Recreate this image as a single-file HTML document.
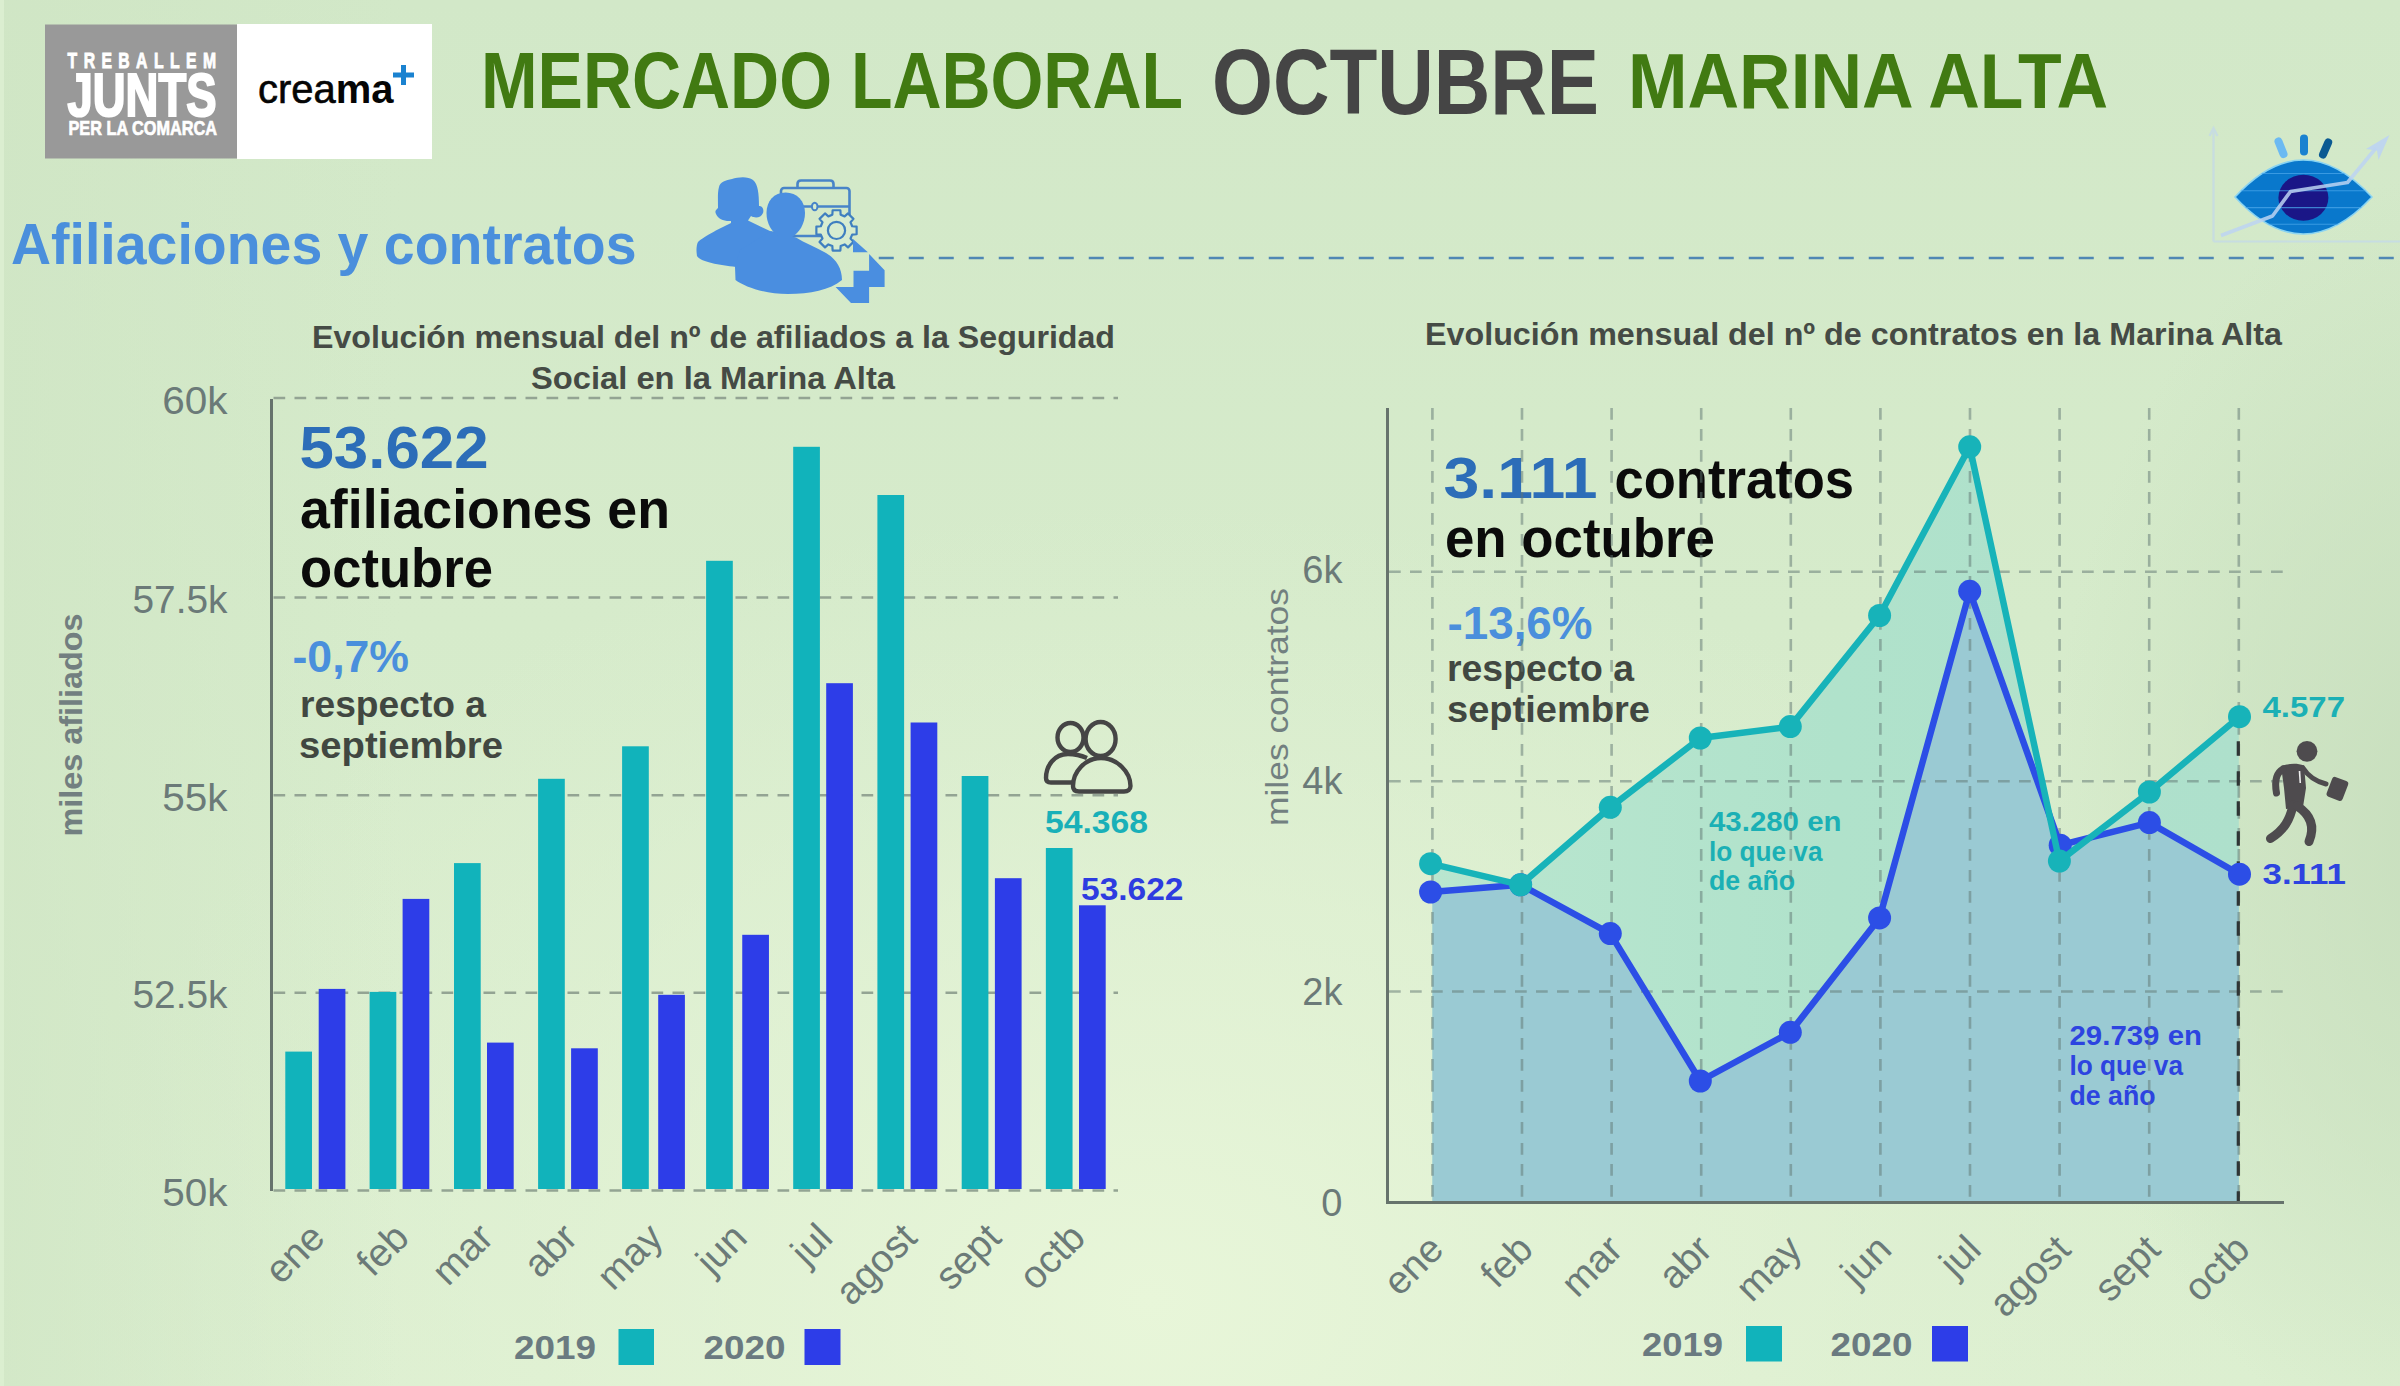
<!DOCTYPE html>
<html lang="es">
<head>
<meta charset="utf-8">
<title>Mercado laboral octubre Marina Alta</title>
<style>
html,body{margin:0;padding:0;width:2400px;height:1386px;overflow:hidden;background:#d6eacb;}
svg{display:block;font-family:"Liberation Sans",Arial,sans-serif;}
</style>
</head>
<body>
<svg id="main" width="2400" height="1386" viewBox="0 0 2400 1386">
<defs>
  <linearGradient id="bgv" x1="0" y1="0" x2="0" y2="1">
    <stop offset="0" stop-color="#d2e8c8"/>
    <stop offset="0.45" stop-color="#d6ebcb"/>
    <stop offset="1" stop-color="#dcefd0"/>
  </linearGradient>
  <radialGradient id="bgr" gradientUnits="userSpaceOnUse" cx="1150" cy="1300" r="1000" gradientTransform="translate(1150 1300) scale(1.1 0.8) translate(-1150 -1300)">
    <stop offset="0" stop-color="#e8f6d9" stop-opacity="1"/>
    <stop offset="0.5" stop-color="#e4f3d6" stop-opacity="0.6"/>
    <stop offset="1" stop-color="#e0f0d3" stop-opacity="0"/>
  </radialGradient>
  <radialGradient id="bgR" gradientUnits="userSpaceOnUse" cx="2470" cy="820" r="420" gradientTransform="translate(2470 820) scale(1 1.55) translate(-2470 -820)">
    <stop offset="0" stop-color="#c6ddbc" stop-opacity="0.95"/>
    <stop offset="0.55" stop-color="#c8dfbe" stop-opacity="0.55"/>
    <stop offset="1" stop-color="#c8dfbe" stop-opacity="0"/>
  </radialGradient>
  <linearGradient id="bgL" gradientUnits="userSpaceOnUse" x1="0" y1="0" x2="400" y2="0">
    <stop offset="0" stop-color="#cfe5c4" stop-opacity="0.7"/>
    <stop offset="1" stop-color="#cfe5c4" stop-opacity="0"/>
  </linearGradient>
</defs>
<!-- background -->
<rect x="0" y="0" width="2400" height="1386" fill="url(#bgv)"/>
<rect x="0" y="0" width="2400" height="1386" fill="url(#bgr)"/>
<rect x="0" y="0" width="2400" height="1386" fill="url(#bgR)"/>
<rect x="0" y="0" width="2400" height="1386" fill="url(#bgL)"/>
<rect x="0" y="0" width="4" height="1386" fill="#ddf0d2" opacity="0.8"/>

<!-- ============ HEADER ============ -->
<g id="logo">
  <rect x="45" y="24.5" width="192" height="134" fill="#999999"/>
  <rect x="237" y="24" width="195" height="135" fill="#ffffff"/>
  <text transform="translate(67.6,67.7) scale(0.7,1)" font-size="22.5" font-weight="bold" fill="#fff" stroke="#fff" stroke-width="0.9" textLength="212" lengthAdjust="spacing">TREBALLEM</text>
  <text x="67.5" y="115.8" font-size="61" font-weight="bold" fill="#fff" stroke="#fff" stroke-width="2.2" textLength="149" lengthAdjust="spacingAndGlyphs">JUNTS</text>
  <text x="68.5" y="135.4" font-size="20.5" font-weight="bold" fill="#fff" stroke="#fff" stroke-width="0.7" textLength="148.5" lengthAdjust="spacingAndGlyphs">PER LA COMARCA</text>
  <text x="258" y="102.5" font-size="40" fill="#050505" textLength="135.5" lengthAdjust="spacingAndGlyphs"><tspan stroke="#050505" stroke-width="0.6">crea</tspan><tspan font-weight="bold">ma</tspan></text>
  <path d="M403.5 65 v20 M393 75 h21" stroke="#1a82d0" stroke-width="5"/>
</g>

<text x="481" y="108.2" font-size="79" font-weight="bold" fill="#417a12" textLength="702" lengthAdjust="spacingAndGlyphs">MERCADO LABORAL</text>
<text x="1212" y="114.4" font-size="93" font-weight="bold" fill="#454545" textLength="387" lengthAdjust="spacingAndGlyphs">OCTUBRE</text>
<text x="1628" y="108.3" font-size="78.5" font-weight="bold" fill="#417a12" textLength="480" lengthAdjust="spacingAndGlyphs">MARINA ALTA</text>

<text x="11" y="264" font-size="57" font-weight="bold" fill="#4a8fdc" textLength="625.5" lengthAdjust="spacingAndGlyphs">Afiliaciones y contratos</text>

<!-- dashed separator -->
<line x1="878.75" y1="258" x2="2400" y2="258" stroke="#4f87b4" stroke-width="2.5" stroke-dasharray="15 15"/>

<g id="leftchart">
<text x="713.5" y="348" font-size="32" font-weight="bold" fill="#454b45" text-anchor="middle" textLength="803" lengthAdjust="spacingAndGlyphs">Evolución mensual del nº de afiliados a la Seguridad</text>
<text x="713" y="388.5" font-size="32" font-weight="bold" fill="#454b45" text-anchor="middle" textLength="364" lengthAdjust="spacingAndGlyphs">Social en la Marina Alta</text>
<line x1="273.5" y1="398" x2="1118" y2="398" stroke="#93a493" stroke-width="2.5" stroke-dasharray="11.7 9.3"/>
<text x="227.5" y="413.5" font-size="38" fill="#6b7a78" text-anchor="end" textLength="65.3" lengthAdjust="spacingAndGlyphs">60k</text>
<line x1="273.5" y1="597.5" x2="1118" y2="597.5" stroke="#93a493" stroke-width="2.5" stroke-dasharray="11.7 9.3"/>
<text x="227.5" y="613.0" font-size="38" fill="#6b7a78" text-anchor="end" textLength="95" lengthAdjust="spacingAndGlyphs">57.5k</text>
<line x1="273.5" y1="795.2" x2="1118" y2="795.2" stroke="#93a493" stroke-width="2.5" stroke-dasharray="11.7 9.3"/>
<text x="227.5" y="810.7" font-size="38" fill="#6b7a78" text-anchor="end" textLength="65.3" lengthAdjust="spacingAndGlyphs">55k</text>
<line x1="273.5" y1="992.8" x2="1118" y2="992.8" stroke="#93a493" stroke-width="2.5" stroke-dasharray="11.7 9.3"/>
<text x="227.5" y="1008.3" font-size="38" fill="#6b7a78" text-anchor="end" textLength="95" lengthAdjust="spacingAndGlyphs">52.5k</text>
<line x1="273.5" y1="1190.6" x2="1118" y2="1190.6" stroke="#93a493" stroke-width="2.5" stroke-dasharray="11.7 9.3"/>
<text x="227.5" y="1206.1" font-size="38" fill="#6b7a78" text-anchor="end" textLength="65.3" lengthAdjust="spacingAndGlyphs">50k</text>
<line x1="271.5" y1="399" x2="271.5" y2="1191" stroke="#66736c" stroke-width="3"/>
<rect x="285.3" y="1051.6" width="26.7" height="137.4" fill="#11b3bb"/>
<rect x="369.6" y="991.9" width="26.7" height="197.1" fill="#11b3bb"/>
<rect x="454" y="863.1" width="26.7" height="325.9" fill="#11b3bb"/>
<rect x="538.1" y="778.8" width="26.7" height="410.2" fill="#11b3bb"/>
<rect x="622.1" y="746.3" width="26.7" height="442.7" fill="#11b3bb"/>
<rect x="706.1" y="560.8" width="26.7" height="628.2" fill="#11b3bb"/>
<rect x="793.2" y="446.8" width="26.7" height="742.2" fill="#11b3bb"/>
<rect x="877.4" y="495" width="26.7" height="694.0" fill="#11b3bb"/>
<rect x="961.7" y="776" width="26.7" height="413.0" fill="#11b3bb"/>
<rect x="1045.85" y="848" width="26.7" height="341.0" fill="#11b3bb"/>
<rect x="318.7" y="988.9" width="26.7" height="200.1" fill="#2d3de8"/>
<rect x="402.6" y="898.9" width="26.7" height="290.1" fill="#2d3de8"/>
<rect x="487" y="1042.6" width="26.7" height="146.4" fill="#2d3de8"/>
<rect x="571.1" y="1048.3" width="26.7" height="140.7" fill="#2d3de8"/>
<rect x="658.2" y="994.8" width="26.7" height="194.2" fill="#2d3de8"/>
<rect x="742.25" y="934.8" width="26.7" height="254.2" fill="#2d3de8"/>
<rect x="826.2" y="683.2" width="26.7" height="505.8" fill="#2d3de8"/>
<rect x="910.6" y="722.5" width="26.7" height="466.5" fill="#2d3de8"/>
<rect x="994.9" y="878.2" width="26.7" height="310.8" fill="#2d3de8"/>
<rect x="1079" y="905.3" width="26.7" height="283.7" fill="#2d3de8"/>
<text transform="translate(326.9,1239.8) rotate(-45)" font-size="39" fill="#6b7a78" text-anchor="end">ene</text>
<text transform="translate(411.0,1239.8) rotate(-45)" font-size="39" fill="#6b7a78" text-anchor="end">feb</text>
<text transform="translate(495.4,1239.8) rotate(-45)" font-size="39" fill="#6b7a78" text-anchor="end">mar</text>
<text transform="translate(579.5,1239.8) rotate(-45)" font-size="39" fill="#6b7a78" text-anchor="end">abr</text>
<text transform="translate(665.0,1239.8) rotate(-45)" font-size="39" fill="#6b7a78" text-anchor="end">may</text>
<text transform="translate(749.0,1239.8) rotate(-45)" font-size="39" fill="#6b7a78" text-anchor="end">jun</text>
<text transform="translate(834.6,1239.8) rotate(-45)" font-size="39" fill="#6b7a78" text-anchor="end">jul</text>
<text transform="translate(918.9,1239.8) rotate(-45)" font-size="39" fill="#6b7a78" text-anchor="end">agost</text>
<text transform="translate(1003.1,1239.8) rotate(-45)" font-size="39" fill="#6b7a78" text-anchor="end">sept</text>
<text transform="translate(1087.3,1239.8) rotate(-45)" font-size="39" fill="#6b7a78" text-anchor="end">octb</text>
</g>
<g id="leftannot">
<text x="299.5" y="468" font-size="58.5" font-weight="bold" fill="#2c6db8" textLength="189" lengthAdjust="spacingAndGlyphs">53.622</text>
<text x="300" y="527.5" font-size="56" font-weight="bold" fill="#0b0b0b" textLength="370" lengthAdjust="spacingAndGlyphs">afiliaciones en</text>
<text x="300" y="587" font-size="56" font-weight="bold" fill="#0b0b0b" textLength="193" lengthAdjust="spacingAndGlyphs">octubre</text>
<text x="292.5" y="671.7" font-size="45" font-weight="bold" fill="#4a8fdc" textLength="116.5" lengthAdjust="spacingAndGlyphs">-0,7%</text>
<text x="300" y="717" font-size="37" font-weight="bold" fill="#414741" textLength="186" lengthAdjust="spacingAndGlyphs">respecto a</text>
<text x="299" y="758" font-size="37" font-weight="bold" fill="#414741" textLength="204" lengthAdjust="spacingAndGlyphs">septiembre</text>
<text x="1045" y="833.3" font-size="31.5" font-weight="bold" fill="#19b0b8" textLength="103" lengthAdjust="spacingAndGlyphs">54.368</text>
<text x="1081" y="900.3" font-size="32" font-weight="bold" fill="#2d3ce0" textLength="102.5" lengthAdjust="spacingAndGlyphs">53.622</text>
<g fill="none" stroke="#454545" stroke-width="4.4" stroke-linejoin="round">
<ellipse cx="1070.5" cy="737.5" rx="13" ry="14.5"/>
<path d="M1087 758 C1080 755 1074 754 1068 754 C1054 754 1046 766 1046 778 C1046 781 1048 782.5 1051 782.5 L1074 782.5"/>
<ellipse cx="1100.6" cy="739" rx="15" ry="17"/>
<path d="M1101 758 C1085 758 1073 772 1073 786 C1073 789.5 1075 791.5 1079 791.5 L1124 791.5 C1128 791.5 1130.5 789.5 1130.5 786 C1130.5 772 1117 758 1101 758 Z"/>
</g>
<text x="514" y="1358.5" font-size="33" font-weight="bold" fill="#6a7a80" textLength="82" lengthAdjust="spacingAndGlyphs">2019</text>
<rect x="618.5" y="1329" width="35.5" height="36" fill="#11b3bb"/>
<text x="703.5" y="1358.5" font-size="33" font-weight="bold" fill="#6a7a80" textLength="82" lengthAdjust="spacingAndGlyphs">2020</text>
<rect x="804.5" y="1329" width="36" height="36" fill="#2d3de8"/>
<text transform="translate(81.5,725) rotate(-90)" font-size="31" font-weight="bold" fill="#727f80" text-anchor="middle" textLength="223" lengthAdjust="spacingAndGlyphs">miles afiliados</text>
</g>
<g id="rightchart">
<text x="1853.5" y="344.6" font-size="32" font-weight="bold" fill="#454b45" text-anchor="middle" textLength="857" lengthAdjust="spacingAndGlyphs">Evolución mensual del nº de contratos en la Marina Alta</text>
<defs><linearGradient id="mint" x1="0" y1="0" x2="1" y2="0"><stop offset="0" stop-color="#b9e6cf"/><stop offset="0.5" stop-color="#b0e2cb"/><stop offset="1" stop-color="#aee0cc"/></linearGradient></defs>
<path d="M1432.4,1202.5 L1432.4,863.7 L1520.6,884.8 L1610.3,807.3 L1700.3,738 L1790.3,726.6 L1879.6,615.5 L1969.7,446.8 L2059.4,861.1 L2149.4,792 L2238.8,716.7 L2238.8,1202.5 Z" fill="url(#mint)"/>
<path d="M1432.4,1202.5 L1432.4,892 L1520.6,884.8 L1610.3,933.6 L1700.3,1081 L1790.3,1032.3 L1879.6,917.9 L1969.7,591.3 L2060.2,845.2 L2149.4,822.6 L2238.8,874.2 L2238.8,1202.5 Z" fill="#9acad3"/>
<text x="1443.5" y="498" font-size="57" font-weight="bold" fill="#2c6db8" textLength="154" lengthAdjust="spacingAndGlyphs">3.111</text>
<text x="1614.5" y="498" font-size="56" font-weight="bold" fill="#0b0b0b" textLength="239.5" lengthAdjust="spacingAndGlyphs">contratos</text>
<text x="1445" y="557.3" font-size="56" font-weight="bold" fill="#0b0b0b" textLength="270" lengthAdjust="spacingAndGlyphs">en octubre</text>
<text x="1447.5" y="638.7" font-size="45.5" font-weight="bold" fill="#4a8fdc" textLength="145" lengthAdjust="spacingAndGlyphs">-13,6%</text>
<text x="1447" y="680.5" font-size="37" font-weight="bold" fill="#414741" textLength="187" lengthAdjust="spacingAndGlyphs">respecto a</text>
<text x="1447" y="721.6" font-size="37" font-weight="bold" fill="#414741" textLength="203" lengthAdjust="spacingAndGlyphs">septiembre</text>
<g font-size="28" font-weight="bold" fill="#1bb0b5">
<text x="1709" y="831" textLength="132.5" lengthAdjust="spacingAndGlyphs">43.280 en</text><text x="1709" y="860.6" textLength="113.5" lengthAdjust="spacingAndGlyphs">lo que va</text><text x="1709" y="890.3" textLength="86" lengthAdjust="spacingAndGlyphs">de año</text></g>
<g font-size="28" font-weight="bold" fill="#2d44e0">
<text x="2069.5" y="1045" textLength="132.5" lengthAdjust="spacingAndGlyphs">29.739 en</text><text x="2069.5" y="1075" textLength="113.5" lengthAdjust="spacingAndGlyphs">lo que va</text><text x="2069.5" y="1105" textLength="86" lengthAdjust="spacingAndGlyphs">de año</text></g>
<line x1="1389" y1="571.75" x2="2283" y2="571.75" stroke="#5f7572" stroke-opacity="0.5" stroke-width="2.6" stroke-dasharray="11.7 9.3"/>
<line x1="1389" y1="781.2" x2="2283" y2="781.2" stroke="#5f7572" stroke-opacity="0.5" stroke-width="2.6" stroke-dasharray="11.7 9.3"/>
<line x1="1389" y1="991.5" x2="2283" y2="991.5" stroke="#5f7572" stroke-opacity="0.5" stroke-width="2.6" stroke-dasharray="11.7 9.3"/>
<line x1="1432.4" y1="408" x2="1432.4" y2="1201" stroke="#5f7572" stroke-opacity="0.5" stroke-width="2.6" stroke-dasharray="11.7 9.3"/>
<line x1="1522.0" y1="408" x2="1522.0" y2="1201" stroke="#5f7572" stroke-opacity="0.5" stroke-width="2.6" stroke-dasharray="11.7 9.3"/>
<line x1="1611.6" y1="408" x2="1611.6" y2="1201" stroke="#5f7572" stroke-opacity="0.5" stroke-width="2.6" stroke-dasharray="11.7 9.3"/>
<line x1="1701.2" y1="408" x2="1701.2" y2="1201" stroke="#5f7572" stroke-opacity="0.5" stroke-width="2.6" stroke-dasharray="11.7 9.3"/>
<line x1="1790.8" y1="408" x2="1790.8" y2="1201" stroke="#5f7572" stroke-opacity="0.5" stroke-width="2.6" stroke-dasharray="11.7 9.3"/>
<line x1="1880.4" y1="408" x2="1880.4" y2="1201" stroke="#5f7572" stroke-opacity="0.5" stroke-width="2.6" stroke-dasharray="11.7 9.3"/>
<line x1="1970.0" y1="408" x2="1970.0" y2="1201" stroke="#5f7572" stroke-opacity="0.5" stroke-width="2.6" stroke-dasharray="11.7 9.3"/>
<line x1="2059.6" y1="408" x2="2059.6" y2="1201" stroke="#5f7572" stroke-opacity="0.5" stroke-width="2.6" stroke-dasharray="11.7 9.3"/>
<line x1="2149.2" y1="408" x2="2149.2" y2="1201" stroke="#5f7572" stroke-opacity="0.5" stroke-width="2.6" stroke-dasharray="11.7 9.3"/>
<line x1="2238.8" y1="408" x2="2238.8" y2="1201" stroke="#5f7572" stroke-opacity="0.5" stroke-width="2.6" stroke-dasharray="11.7 9.3"/>
<line x1="2238.3" y1="741.2" x2="2238.3" y2="1202" stroke="#2f3535" stroke-width="3.2" stroke-dasharray="14.5 15.5"/>
<path d="M1387.5 408 V1202.5 H2284" fill="none" stroke="#66736c" stroke-width="3"/>
<polyline points="1430.6,892 1520.6,884.8 1610.3,933.6 1700.3,1081 1790.3,1032.3 1879.6,917.9 1969.7,591.3 2060.2,845.2 2149.4,822.6 2239.5,874.2" fill="none" stroke="#2c4ee6" stroke-width="6.5" stroke-linejoin="round"/>
<circle cx="1430.6" cy="892" r="11.5" fill="#2c4ee6"/>
<circle cx="1520.6" cy="884.8" r="11.5" fill="#2c4ee6"/>
<circle cx="1610.3" cy="933.6" r="11.5" fill="#2c4ee6"/>
<circle cx="1700.3" cy="1081" r="11.5" fill="#2c4ee6"/>
<circle cx="1790.3" cy="1032.3" r="11.5" fill="#2c4ee6"/>
<circle cx="1879.6" cy="917.9" r="11.5" fill="#2c4ee6"/>
<circle cx="1969.7" cy="591.3" r="11.5" fill="#2c4ee6"/>
<circle cx="2060.2" cy="845.2" r="11.5" fill="#2c4ee6"/>
<circle cx="2149.4" cy="822.6" r="11.5" fill="#2c4ee6"/>
<circle cx="2239.5" cy="874.2" r="11.5" fill="#2c4ee6"/>
<polyline points="1430.6,863.7 1520.6,884.8 1610.3,807.3 1700.3,738 1790.3,726.6 1879.6,615.5 1969.7,446.8 2059.4,861.1 2149.4,792 2239.5,716.7" fill="none" stroke="#17b3b9" stroke-width="6.5" stroke-linejoin="round"/>
<circle cx="1430.6" cy="863.7" r="11.5" fill="#17b3b9"/>
<circle cx="1520.6" cy="884.8" r="11.5" fill="#17b3b9"/>
<circle cx="1610.3" cy="807.3" r="11.5" fill="#17b3b9"/>
<circle cx="1700.3" cy="738" r="11.5" fill="#17b3b9"/>
<circle cx="1790.3" cy="726.6" r="11.5" fill="#17b3b9"/>
<circle cx="1879.6" cy="615.5" r="11.5" fill="#17b3b9"/>
<circle cx="1969.7" cy="446.8" r="11.5" fill="#17b3b9"/>
<circle cx="2059.4" cy="861.1" r="11.5" fill="#17b3b9"/>
<circle cx="2149.4" cy="792" r="11.5" fill="#17b3b9"/>
<circle cx="2239.5" cy="716.7" r="11.5" fill="#17b3b9"/>
<text x="1342.5" y="583.4" font-size="38" fill="#6b7a78" text-anchor="end">6k</text>
<text x="1342.5" y="794" font-size="38" fill="#6b7a78" text-anchor="end">4k</text>
<text x="1342.5" y="1005" font-size="38" fill="#6b7a78" text-anchor="end">2k</text>
<text x="1342.5" y="1216" font-size="38" fill="#6b7a78" text-anchor="end">0</text>
<text transform="translate(1288,707) rotate(-90)" font-size="31" fill="#728080" text-anchor="middle" textLength="238" lengthAdjust="spacingAndGlyphs">miles contratos</text>
<text transform="translate(1445.5,1251.5) rotate(-45)" font-size="39" fill="#6b7a78" text-anchor="end">ene</text>
<text transform="translate(1535.1,1251.5) rotate(-45)" font-size="39" fill="#6b7a78" text-anchor="end">feb</text>
<text transform="translate(1624.7,1251.5) rotate(-45)" font-size="39" fill="#6b7a78" text-anchor="end">mar</text>
<text transform="translate(1714.3,1251.5) rotate(-45)" font-size="39" fill="#6b7a78" text-anchor="end">abr</text>
<text transform="translate(1803.9,1251.5) rotate(-45)" font-size="39" fill="#6b7a78" text-anchor="end">may</text>
<text transform="translate(1893.5,1251.5) rotate(-45)" font-size="39" fill="#6b7a78" text-anchor="end">jun</text>
<text transform="translate(1983.1,1251.5) rotate(-45)" font-size="39" fill="#6b7a78" text-anchor="end">jul</text>
<text transform="translate(2072.7,1251.5) rotate(-45)" font-size="39" fill="#6b7a78" text-anchor="end">agost</text>
<text transform="translate(2162.3,1251.5) rotate(-45)" font-size="39" fill="#6b7a78" text-anchor="end">sept</text>
<text transform="translate(2251.9,1251.5) rotate(-45)" font-size="39" fill="#6b7a78" text-anchor="end">octb</text>
<text x="2262.5" y="716.7" font-size="29" font-weight="bold" fill="#1bb0b5" textLength="82.5" lengthAdjust="spacingAndGlyphs">4.577</text>
<text x="2262.5" y="884.1" font-size="29" font-weight="bold" fill="#2d44e0" textLength="83.5" lengthAdjust="spacingAndGlyphs">3.111</text>
<text x="1642" y="1356" font-size="33" font-weight="bold" fill="#6a7a80" textLength="81" lengthAdjust="spacingAndGlyphs">2019</text>
<rect x="1746" y="1326" width="36" height="35.5" fill="#11b3bb"/>
<text x="1830.5" y="1356" font-size="33" font-weight="bold" fill="#6a7a80" textLength="82" lengthAdjust="spacingAndGlyphs">2020</text>
<rect x="1932" y="1326" width="36" height="35.5" fill="#2d3de8"/>
</g>
<g id="peopleicon">
  <!-- briefcase outline -->
  <g fill="none" stroke="#4884c8" stroke-width="2.6">
    <path d="M797.5 187.5 V184 Q797.5 180.5 801 180.5 H830 Q833.5 180.5 833.5 184 V187.5"/>
    <rect x="781" y="188" width="68.5" height="48" rx="3"/>
    <line x1="781" y1="206.5" x2="849.5" y2="206.5"/>
  </g>
  <ellipse cx="814.7" cy="206.5" rx="2.8" ry="3.8" fill="#d7ecd0" stroke="#4884c8" stroke-width="2"/>
  <!-- gear -->
  <g transform="translate(836.5,230.4)">
    <path id="gearp" fill="#d7ecd0" stroke="#3f7fc0" stroke-width="2.2" stroke-linejoin="round" d="M-4.16 -15.66 L-3.87 -20.13 L3.87 -20.13 L4.16 -15.66 L8.13 -14.02 L11.50 -16.97 L16.97 -11.50 L14.02 -8.13 L15.66 -4.16 L20.13 -3.87 L20.13 3.87 L15.66 4.16 L14.02 8.13 L16.97 11.50 L11.50 16.97 L8.13 14.02 L4.16 15.66 L3.87 20.13 L-3.87 20.13 L-4.16 15.66 L-8.13 14.02 L-11.50 16.97 L-16.97 11.50 L-14.02 8.13 L-15.66 4.16 L-20.13 3.87 L-20.13 -3.87 L-15.66 -4.16 L-14.02 -8.13 L-16.97 -11.50 L-11.50 -16.97 L-8.13 -14.02 Z"/>
    <circle r="8.6" fill="none" stroke="#3f7fc0" stroke-width="2.2"/>
  </g>
  <!-- plus with shadow -->
  <polygon points="853,239 853,252.3 867.9,252.3" fill="#4a8ee0"/>
  <polygon points="853.5,270.8 869.1,270.8 869.1,254.1 884.6,270.2 884.6,287 869.1,287 869.1,303 851,303 835.6,287 853.5,287" fill="#4a8ee0"/>
  <!-- woman -->
  <path fill="#4a8ee0" d="M731 221 C724 221.5 718 219 716 214 C714.5 211 716 210 718 208 C718 200 717.5 192 719 187 C720 182 726 180 732 179 C738 177 748 176 753 180 C758 184 759 194 759 206 C763 206 764 210 763 213 C761 218 755 218.5 751 216 L748 220.5 L771 231.5 L775 270 L736 267 C720 265 700 262 697 256 C696 250 696.5 245 698 242 C702 238 718 229 731 223 Z"/>
  <!-- man -->
  <path fill="#4a8ee0" d="M771 231 L796 237.5 C805 243 815 247 826 253 C836 259 842 268 842 280 C830 290 810 294 788 294 C765 294 745 287 735.5 280 L735 267 L740 250 Z"/>
  <path fill="#4a8ee0" d="M785.6 192.5 C797 192.5 805 201 805 213 C805 224 799 233 792 237 L779 237 C771.5 232 766.5 223 766.5 213 C766.5 201 774 192.5 785.6 192.5 Z"/>
</g>

<g id="eyeicon">
  <g stroke="#c2d8ec" stroke-width="2.2" fill="none" opacity="0.7">
    <path d="M2213.5 241.5 V130"/>
    <path d="M2209.5 136 L2213.5 128 L2217.5 136"/>
    <path d="M2213.5 241.5 H2400"/>
  </g>
  <path d="M2235 197 Q2303 123 2372 197 Q2303 271 2235 197 Z" fill="#0a78cc" stroke="#8ad4f2" stroke-width="1.6"/>
  <clipPath id="eyeclip"><path d="M2235 197 Q2303 123 2372 197 Q2303 271 2235 197 Z"/></clipPath>
  <circle cx="2303.4" cy="197.8" r="25" fill="#1b1787" transform="translate(2303.4 197.8) scale(1 0.92) translate(-2303.4 -197.8)"/>
  <g stroke="#4aa6ea" stroke-width="1.1" clip-path="url(#eyeclip)" opacity="0.75">
    <line x1="2230" y1="173.5" x2="2376" y2="173.5"/>
    <line x1="2230" y1="190.8" x2="2376" y2="190.8"/>
    <line x1="2230" y1="207.6" x2="2376" y2="207.6"/>
    <line x1="2230" y1="224.3" x2="2376" y2="224.3"/>
  </g>
  <polyline points="2221,235.5 2272.5,216 2290.5,191.5 2347.5,182.5 2376,148" fill="none" stroke="#bcd4f2" stroke-width="3.6" stroke-opacity="0.85" stroke-linejoin="round"/>
  <polygon points="2389.5,135 2366,149 2377,150.5 2378.5,160" fill="#bcd4f2" fill-opacity="0.9"/>
  <g stroke-linecap="round" stroke-width="8">
    <line x1="2278.5" y1="141.5" x2="2283.5" y2="154" stroke="#6cbaf2"/>
    <line x1="2304" y1="138.5" x2="2304" y2="151.5" stroke="#1a82d0"/>
    <line x1="2328.2" y1="142.5" x2="2323" y2="154.5" stroke="#0b5a92"/>
  </g>
</g>

<g id="walkman" fill="#4e4b4e">
  <circle cx="2307" cy="751.3" r="10.4"/>
  <path d="M2281 766 C2289 763.5 2297 763 2304 765.5 L2306 788 L2303 807 L2286 809 L2284 788 Z"/>
  <g fill="none" stroke="#4e4b4e" stroke-linecap="round">
    <path d="M2283 769 C2276 773 2274.5 782 2276.5 793" stroke-width="7"/>
    <path d="M2303 768 C2308 776 2314 781 2326 784" stroke-width="5"/>
    <path d="M2293 805 C2290 820 2284 830 2270.5 838.5" stroke-width="9"/>
    <path d="M2297 806 C2311 815 2315 827 2309 841.5" stroke-width="9"/>
  </g>
  <rect x="-8.5" y="-10.5" width="17" height="21" rx="3" transform="translate(2337.4,788.9) rotate(21)"/>
  <line x1="2299.5" y1="771" x2="2300.3" y2="783" stroke="#f0f0f0" stroke-width="1.6"/>
</g>

<!-- CHARTS_PLACEHOLDER -->

</svg>
</body>
</html>
